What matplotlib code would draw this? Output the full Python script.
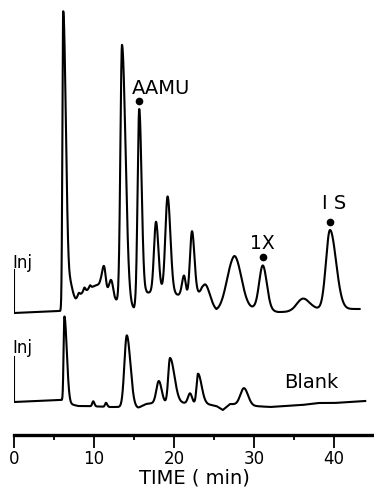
import numpy as np
import matplotlib
matplotlib.use("Agg")
import matplotlib.pyplot as plt

# ---------------- data ----------------
# time axis
TIME_MAX = 44.75
MAJOR_TICKS = [0, 10, 20, 30, 40]
MINOR_TICKS = [5, 15, 25, 35]
X_LABEL = "TIME ( min)"

# upper chromatogram (sample): baseline points and peaks
UP_BASE_T = [0, 5.8, 6.6, 7.0, 7.7, 8.5, 10.0, 10.8, 12.6, 13.3, 15.0, 16.5, 18.5, 20.5, 21.8, 23.5, 25.3, 26.0, 29.3, 30.0, 33.0, 35.0, 37.4, 43.2]
UP_BASE_H = [-1, 1, 14, 16, 13, 19, 26, 28, 12, 10, 3, 19, 21, 17, 16, 19, 1, 2, 4, 4, 0, 0, 3, 3]
UP_PEAK_T = [6.15, 7.1, 8.1, 8.8, 9.5, 11.25, 12.15, 13.5, 15.65, 17.75, 19.2, 21.25, 22.25, 24.0, 27.4, 28.3, 31.1, 36.1, 39.5]
UP_PEAK_H = [294, 10, 3, 4, 3, 22, 16, 258, 193, 70, 96, 20, 64, 13, 48, 20, 44, 12, 79]
UP_PEAK_SL = [0.1, 0.2, 0.12, 0.12, 0.12, 0.25, 0.25, 0.2, 0.2, 0.25, 0.28, 0.25, 0.25, 0.4, 0.8, 0.5, 0.45, 0.8, 0.5]
UP_PEAK_SR = [0.33, 0.25, 0.12, 0.12, 0.12, 0.2, 0.25, 0.44, 0.3, 0.3, 0.35, 0.2, 0.3, 0.5, 0.6, 0.6, 0.5, 0.8, 0.75]
UP_END = 43.2
UP_INJ = 42

# lower chromatogram (blank)
LO_BASE_T = [0, 5.9, 7.0, 8.0, 9.0, 12.0, 13.2, 15.5, 16.5, 17.5, 21.0, 24.0, 25.3, 26.1, 27.0, 30.0, 32.0, 34.0, 36.0, 38.0, 40.0, 43.9]
LO_BASE_H = [1, 3, -1, -3, -3, -4, -4, -5, -1, 0, 0, -1, -3, -7, -1, -3, -4, -3, -2, 0, 0, 2]
LO_PEAK_T = [6.3, 9.9, 11.5, 14.1, 18.1, 19.5, 22.0, 23.0, 28.75]
LO_PEAK_H = [85, 5, 4, 72, 22, 45, 10, 30, 17]
LO_PEAK_SL = [0.1, 0.12, 0.12, 0.3, 0.3, 0.22, 0.25, 0.18, 0.45]
LO_PEAK_SR = [0.3, 0.15, 0.15, 0.45, 0.35, 0.55, 0.25, 0.45, 0.5]
LO_END = 43.9
LO_INJ = 46

# labelled peaks on the upper trace
LABELS = ["AAMU", "1X", "I S"]
LABEL_T = [15.65, 31.1, 39.5]


def trace(t, bt, bh, pt, ph, psl, psr):
    y = np.interp(t, bt, bh)
    for t0, h, sl, sr in zip(pt, ph, psl, psr):
        s = np.where(t < t0, sl, sr)
        y = y + h * np.exp(-0.5 * ((t - t0) / s) ** 2)
    return y


def peak_height(t0, bt, bh, pt, ph, psl, psr):
    return float(trace(np.array([t0]), bt, bh, pt, ph, psl, psr)[0])


W, H = 374, 491
fig = plt.figure(figsize=(W / 100, H / 100), dpi=100)
L = 14 / W
AW = (8 * TIME_MAX) / W

LW = 1.5
FONT = "DejaVu Sans"

# upper axes
axu = fig.add_axes([L, (H - 320) / H, AW, 315 / H])
axu.set_xlim(0, TIME_MAX)
axu.set_ylim(-8, 307)
axu.axis("off")
tu = np.linspace(0, UP_END, 4000)
yu = trace(tu, UP_BASE_T, UP_BASE_H, UP_PEAK_T, UP_PEAK_H, UP_PEAK_SL, UP_PEAK_SR)
axu.plot(np.r_[0, 0, tu], np.r_[UP_INJ, yu[0], yu], color="black", lw=LW, solid_joinstyle="round")
axu.text(-0.2, UP_INJ + 7, "Inj", fontsize=12, family=FONT, ha="left", va="center")

for lab, t0 in zip(LABELS, LABEL_T):
    hp = peak_height(t0, UP_BASE_T, UP_BASE_H, UP_PEAK_T, UP_PEAK_H, UP_PEAK_SL, UP_PEAK_SR)
    axu.plot([t0], [hp + 8], "o", color="black", ms=4.5)
    if lab == "AAMU":
        axu.annotate(lab, (t0, hp + 8), xytext=(16, 9), textcoords="offset points",
                     ha="center", va="center", fontsize=14, family=FONT)
    elif lab == "1X":
        axu.annotate(lab, (t0, hp + 8), xytext=(-0.5, 10), textcoords="offset points",
                     ha="center", va="center", fontsize=13.5, family=FONT)
    else:
        axu.annotate(lab, (t0, hp + 8), xytext=(3, 13), textcoords="offset points",
                     ha="center", va="center", fontsize=14, family=FONT)

# lower axes
axl = fig.add_axes([L, (H - 415) / H, AW, 105 / H])
axl.set_xlim(0, TIME_MAX)
axl.set_ylim(-12, 93)
axl.axis("off")
tl = np.linspace(0, LO_END, 4000)
yl = trace(tl, LO_BASE_T, LO_BASE_H, LO_PEAK_T, LO_PEAK_H, LO_PEAK_SL, LO_PEAK_SR)
axl.plot(np.r_[0, 0, tl], np.r_[LO_INJ, yl[0], yl], color="black", lw=LW, solid_joinstyle="round")
axl.text(-0.2, LO_INJ + 9, "Inj", fontsize=12, family=FONT, ha="left", va="center")
axl.text(37.1, 20, "Blank", fontsize=14, family=FONT, ha="center", va="center")

# time axis
axt = fig.add_axes([L, (H - 435) / H, (360) / W, 0.02])
axt.set_xlim(0, 45.0)
axt.set_ylim(0, 1)
for s in ["left", "right", "top"]:
    axt.spines[s].set_visible(False)
axt.spines["bottom"].set_linewidth(2.4)
axt.set_yticks([])
axt.set_xticks(MAJOR_TICKS)
axt.set_xticks(MINOR_TICKS, minor=True)
axt.set_xticklabels([str(v) for v in MAJOR_TICKS])
axt.tick_params(axis="x", which="major", direction="out", length=9.5, width=1.3, pad=1.5, labelsize=12)
axt.tick_params(axis="x", which="minor", direction="out", length=3.6, width=1.3)
axt.patch.set_visible(False)
axt.set_xlabel(X_LABEL, fontsize=14, family=FONT, labelpad=0)

fig.savefig("out.png", dpi=100)
